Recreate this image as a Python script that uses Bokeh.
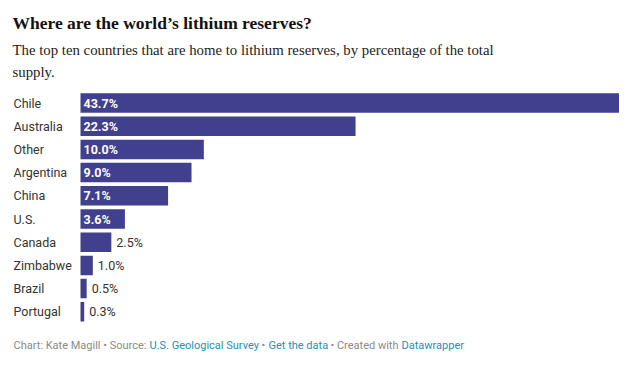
from bokeh.plotting import figure
from bokeh.models import Range1d, ColumnDataSource
from bokeh.core.properties import value
from bokeh.embed import file_html
from bokeh.resources import INLINE

countries = ["Chile", "Australia", "Other", "Argentina", "China", "U.S.",
             "Canada", "Zimbabwe", "Brazil", "Portugal"]
shares = [43.7, 22.3, 10.0, 9.0, 7.1, 3.6, 2.5, 1.0, 0.5, 0.3]
share_labels = ["43.7%", "22.3%", "10.0%", "9.0%", "7.1%", "3.6%",
                "2.5%", "1.0%", "0.5%", "0.3%"]

title = "Where are the world\u2019s lithium reserves?"
subtitle_1 = "The top ten countries that are home to lithium reserves, by percentage of the total"
subtitle_2 = "supply."

W, H = 619, 352
LEFT = 80          # bar origin in figure px
SCALE = (W - LEFT) / max(shares)
ROW = 23.2
ROW0 = 102.5


def X(px):
    return (px - LEFT) / SCALE


def Y(py):
    return (py - ROW0) / ROW


p = figure(width=W, height=H, output_backend="svg", toolbar_location=None,
           x_range=Range1d(X(0), X(W)), y_range=Range1d(Y(H), Y(0)),
           min_border=0, min_border_left=0, min_border_right=0,
           min_border_top=0, min_border_bottom=0)
p.axis.visible = False
p.grid.visible = False
p.outline_line_color = None
p.background_fill_color = "white"
p.border_fill_color = "white"

idx = list(range(len(countries)))
src = ColumnDataSource(dict(y=idx, v=shares, c=countries, lab=share_labels))
p.hbar(y="y", left=0, right="v", height=19.5 / ROW, source=src,
       fill_color="#40408e", line_color=None)

p.text(x=X(13), y="y", text="c", source=src, text_font=value("Roboto"),
       text_font_size="12.5px", text_color="#333333", text_baseline="middle")

inside = [i for i, v in enumerate(shares) if v >= 3]
outside = [i for i, v in enumerate(shares) if v < 3]
src_in = ColumnDataSource(dict(y=[idx[i] for i in inside],
                               lab=[share_labels[i] for i in inside]))
src_out = ColumnDataSource(dict(y=[idx[i] for i in outside],
                                x=[shares[i] + 5 / SCALE for i in outside],
                                lab=[share_labels[i] for i in outside]))
p.text(x=3 / SCALE, y="y", text="lab", source=src_in, text_font=value("Roboto"),
       text_font_size="12.5px", text_font_style="bold", text_color="white",
       text_baseline="middle")
p.text(x="x", y="y", text="lab", source=src_out, text_font=value("Roboto"),
       text_font_size="12.5px", text_color="#333333", text_baseline="middle")

# Title and subtitle
p.text(x=[X(12)], y=[Y(22)], text=[title], text_font=value("Liberation Serif"),
       text_font_size="17.5px", text_font_style="bold", text_color="#111111",
       text_baseline="alphabetic")
p.text(x=[X(12), X(12)], y=[Y(49.5), Y(71)], text=[subtitle_1, subtitle_2],
       text_font=value("Liberation Serif"), text_font_size="14.8px",
       text_color="#222222", text_baseline="alphabetic")

# Footer
grey = "#8a8a8a"
blue = "#1f8ec0"
foot = [("Chart: Kate Magill \u2022 Source: ", 13, grey),
        ("U.S. Geological Survey", 149, blue),
        ("\u2022", 261, grey),
        ("Get the data", 268, blue),
        ("\u2022 Created with", 330, grey),
        ("Datawrapper", 401, blue)]
for txt, px, col in foot:
    p.text(x=[X(px)], y=[Y(345)], text=[txt], text_font=value("Roboto"),
           text_font_size="11px", text_color=col, text_baseline="alphabetic")

open("out.html", "w").write(file_html(p, INLINE))
